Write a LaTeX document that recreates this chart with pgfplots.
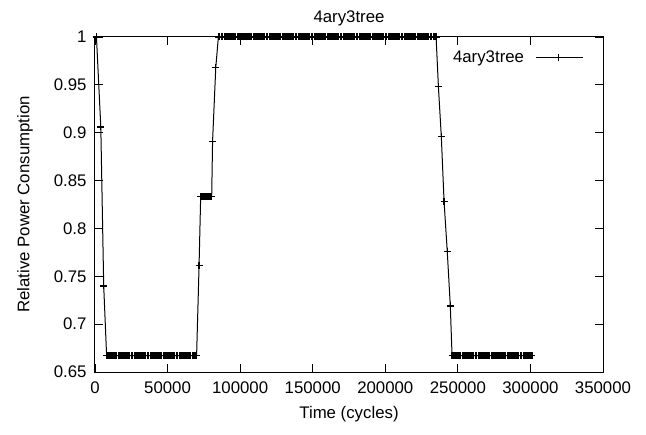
\documentclass[border=0pt]{standalone}
\usepackage{fontspec}
\setmainfont{Liberation Sans}
\usepackage{pgfplots}
\pgfplotsset{compat=1.18}
\begin{document}
\begin{tikzpicture}
\begin{axis}[
  name=ax,
  scale only axis,
  width=508pt, height=335pt,
  xmin=0, xmax=350000, ymin=0.65, ymax=1,
  xtick={0,50000,100000,150000,200000,250000,300000,350000},
  ytick={0.65,0.7,0.75,0.8,0.85,0.9,0.95,1},
  scaled x ticks=false,
  /pgf/number format/assume math mode=true,
  xticklabel style={/pgf/number format/fixed,/pgf/number format/1000 sep={}, yshift=-6pt},
  yticklabel style={/pgf/number format/fixed,/pgf/number format/precision=2, xshift=-5pt},
  font=\fontsize{16.8}{20}\selectfont,
  tick align=inside,
  major tick length=8pt,
  tick style={black, line width=0.8pt},
  axis line style={black, line width=1pt},
  title={4ary3tree},
  title style={yshift=1pt},
  xlabel={Time (cycles)},
  ylabel={Relative Power Consumption},
  xlabel style={yshift=-6pt},
  ylabel style={yshift=14pt},
  legend plot pos=right,
  legend style={draw=none, fill=none, at={(0.967,0.972)}, anchor=north east, font=\fontsize{16.8}{20}\selectfont},
  legend image code/.code={\path (0pt,0pt); \draw[mark repeat=2,mark phase=2,#1] plot coordinates {(9pt,0pt) (32pt,0pt) (56pt,0pt)};},
]
\addplot[black, line width=1pt, mark=+, mark size=3.5pt, mark options={line width=1.3pt}] coordinates {
(1000,1)(4000,0.906)(6000,0.740)
(8000,0.667)(9000,0.667)(10000,0.667)(11000,0.667)(12000,0.667)(13000,0.667)(14000,0.667)(15000,0.667)
(16000,0.667)(17000,0.667)(18000,0.667)(19000,0.667)(20000,0.667)(21000,0.667)(22000,0.667)(23000,0.667)
(24000,0.667)(25000,0.667)(26000,0.667)(27000,0.667)(28000,0.667)(29000,0.667)(30000,0.667)(31000,0.667)
(32000,0.667)(33000,0.667)(34000,0.667)(35000,0.667)(36000,0.667)(37000,0.667)(38000,0.667)(39000,0.667)
(40000,0.667)(41000,0.667)(42000,0.667)(43000,0.667)(44000,0.667)(45000,0.667)(46000,0.667)(47000,0.667)
(48000,0.667)(49000,0.667)(50000,0.667)(51000,0.667)(52000,0.667)(53000,0.667)(54000,0.667)(55000,0.667)
(56000,0.667)(57000,0.667)(58000,0.667)(59000,0.667)(60000,0.667)(61000,0.667)(62000,0.667)(63000,0.667)
(64000,0.667)(65000,0.667)(66000,0.667)(67000,0.667)(68000,0.667)(69000,0.667)(70000,0.667)
(71700,0.761)
(72800,0.833)(73800,0.833)(74800,0.833)(75800,0.833)(76800,0.833)(77800,0.833)(78800,0.833)(79800,0.833)(80400,0.833)
(81000,0.891)(83200,0.968)
(85000,1)(86000,1)(87000,1)(88000,1)(89000,1)(90000,1)(91000,1)(92000,1)(93000,1)(94000,1)
(95000,1)(96000,1)(97000,1)(98000,1)(99000,1)(100000,1)(101000,1)(102000,1)(103000,1)(104000,1)
(105000,1)(106000,1)(107000,1)(108000,1)(109000,1)(110000,1)(111000,1)(112000,1)(113000,1)(114000,1)
(115000,1)(116000,1)(117000,1)(118000,1)(119000,1)(120000,1)(121000,1)(122000,1)(123000,1)(124000,1)
(125000,1)(126000,1)(127000,1)(128000,1)(129000,1)(130000,1)(131000,1)(132000,1)(133000,1)(134000,1)
(135000,1)(136000,1)(137000,1)(138000,1)(139000,1)(140000,1)(141000,1)(142000,1)(143000,1)(144000,1)
(145000,1)(146000,1)(147000,1)(148000,1)(149000,1)(150000,1)(151000,1)(152000,1)(153000,1)(154000,1)
(155000,1)(156000,1)(157000,1)(158000,1)(159000,1)(160000,1)(161000,1)(162000,1)(163000,1)(164000,1)
(165000,1)(166000,1)(167000,1)(168000,1)(169000,1)(170000,1)(171000,1)(172000,1)(173000,1)(174000,1)
(175000,1)(176000,1)(177000,1)(178000,1)(179000,1)(180000,1)(181000,1)(182000,1)(183000,1)(184000,1)
(185000,1)(186000,1)(187000,1)(188000,1)(189000,1)(190000,1)(191000,1)(192000,1)(193000,1)(194000,1)
(195000,1)(196000,1)(197000,1)(198000,1)(199000,1)(200000,1)(201000,1)(202000,1)(203000,1)(204000,1)
(205000,1)(206000,1)(207000,1)(208000,1)(209000,1)(210000,1)(211000,1)(212000,1)(213000,1)(214000,1)
(215000,1)(216000,1)(217000,1)(218000,1)(219000,1)(220000,1)(221000,1)(222000,1)(223000,1)(224000,1)
(225000,1)(226000,1)(227000,1)(228000,1)(229000,1)(230000,1)(231000,1)(232000,1)(233000,1)(234000,1)(235000,1)
(236600,0.948)(238600,0.896)(240500,0.828)(242700,0.776)(244800,0.719)
(246000,0.667)(247000,0.667)(248000,0.667)(249000,0.667)(250000,0.667)(251000,0.667)(252000,0.667)(253000,0.667)
(254000,0.667)(255000,0.667)(256000,0.667)(257000,0.667)(258000,0.667)(259000,0.667)(260000,0.667)(261000,0.667)
(262000,0.667)(263000,0.667)(264000,0.667)(265000,0.667)(266000,0.667)(267000,0.667)(268000,0.667)(269000,0.667)
(270000,0.667)(271000,0.667)(272000,0.667)(273000,0.667)(274000,0.667)(275000,0.667)(276000,0.667)(277000,0.667)
(278000,0.667)(279000,0.667)(280000,0.667)(281000,0.667)(282000,0.667)(283000,0.667)(284000,0.667)(285000,0.667)
(286000,0.667)(287000,0.667)(288000,0.667)(289000,0.667)(290000,0.667)(291000,0.667)(292000,0.667)(293000,0.667)
(294000,0.667)(295000,0.667)(296000,0.667)(297000,0.667)(298000,0.667)(299000,0.667)(300000,0.667)(301000,0.667)
};
\addlegendentry{4ary3tree}
\end{axis}
\pgfresetboundingbox
\path ([shift={(-95pt,-62pt)}]ax.south west) rectangle ([shift={(43pt,37pt)}]ax.north east);
\end{tikzpicture}
\end{document}
